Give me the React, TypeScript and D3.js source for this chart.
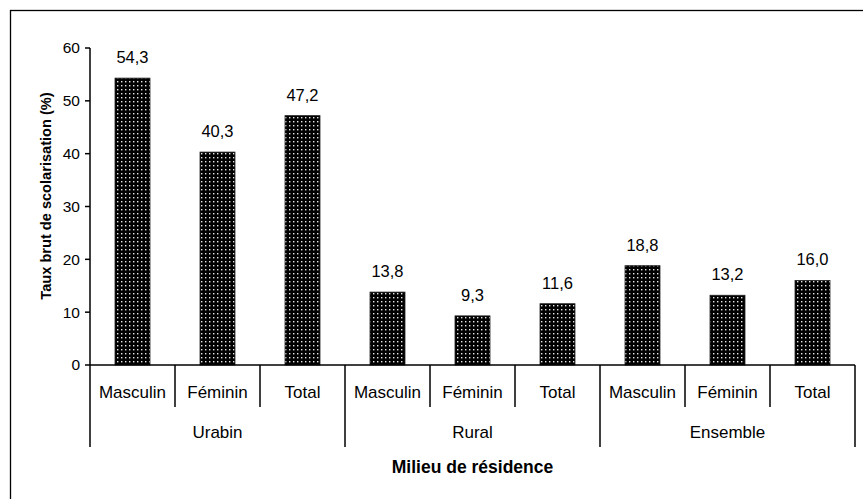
import React from "react";
import * as d3 from "d3";

const groups = ["Urabin", "Rural", "Ensemble"];
const subcats = ["Masculin", "Féminin", "Total"];
const values = [
  [54.3, 40.3, 47.2],
  [13.8, 9.3, 11.6],
  [18.8, 13.2, 16.0],
];
const yTicks = [0, 10, 20, 30, 40, 50, 60];
const yTitle = "Taux brut de scolarisation (%)";
const xTitle = "Milieu de résidence";

const W = 863;
const H = 499;
const left = 90;
const right = 855;
const top = 48;
const bottom = 365;
const font = "Liberation Sans, Arial, sans-serif";

export default function App() {
  const items = groups.flatMap((g, gi) =>
    subcats.map((s, si) => ({ key: `${g}-${s}`, group: g, sub: s, gi, si, v: values[gi][si] }))
  );
  const x = d3.scaleBand<string>().domain(items.map((d) => d.key)).range([left, right]).padding(0);
  const xg = d3.scaleBand<string>().domain(groups).range([left, right]).padding(0);
  const y = d3.scaleLinear().domain([0, 60]).range([bottom, top]);
  const barW = 35;
  const fmt = (v: number) => v.toFixed(1).replace(".", ",");

  return (
    <svg width={W} height={H} style={{ position: "absolute", left: 0, top: 0, background: "#fff" }}>
      <defs>
        <pattern id="dots" width="4" height="4" patternUnits="userSpaceOnUse">
          <rect width="4" height="4" fill="#000" />
          <rect x="1" y="1" width="1.4" height="1.4" fill="#e8e8e8" />
        </pattern>
      </defs>
      <rect x={0} y={0} width={W} height={H} fill="#fff" />
      <rect x={10.5} y={10.5} width={W + 20} height={H + 20} fill="none" stroke="#000" strokeWidth={1.3} />

      {/* y axis */}
      <line x1={left} x2={left} y1={top} y2={447} stroke="#000" strokeWidth={1.5} />
      {yTicks.map((t) => (
        <g key={t}>
          <line x1={left - 5} x2={left} y1={y(t)} y2={y(t)} stroke="#000" strokeWidth={1.5} />
          <text x={left - 10} y={y(t)} dy="0.35em" textAnchor="end" fontFamily={font} fontSize={15.5} fill="#000">
            {t}
          </text>
        </g>
      ))}
      <text
        transform={`translate(46,196) rotate(-90)`}
        textAnchor="middle"
        dy="0.35em"
        fontFamily={font}
        fontSize={14.6}
        fontWeight="bold"
      >
        {yTitle}
      </text>

      {/* bars */}
      {items.map((d) => {
        const cx = (x(d.key) as number) + x.bandwidth() / 2;
        return (
          <g key={d.key}>
            <rect
              x={cx - barW / 2}
              y={y(d.v)}
              width={barW}
              height={bottom - y(d.v)}
              fill="url(#dots)"
              stroke="#222"
              strokeWidth={0.8}
            />
            <text x={cx} y={y(d.v) - 15} textAnchor="middle" fontFamily={font} fontSize={16.5} fill="#000">
              {fmt(d.v)}
            </text>
            <text x={cx} y={392} dy="0.35em" textAnchor="middle" fontFamily={font} fontSize={17} fill="#000">
              {d.sub}
            </text>
          </g>
        );
      })}

      {/* x axis */}
      <line x1={left} x2={right} y1={bottom} y2={bottom} stroke="#000" strokeWidth={1.5} />
      {items.map((d) =>
        d.si > 0 ? (
          <line
            key={"sep" + d.key}
            x1={x(d.key) as number}
            x2={x(d.key) as number}
            y1={bottom}
            y2={407}
            stroke="#000"
            strokeWidth={1.5}
          />
        ) : null
      )}
      {groups.map((g, i) => (
        <g key={g}>
          {i > 0 && (
            <line x1={xg(g) as number} x2={xg(g) as number} y1={bottom} y2={447} stroke="#000" strokeWidth={1.5} />
          )}
          <text
            x={(xg(g) as number) + xg.bandwidth() / 2}
            y={432}
            dy="0.35em"
            textAnchor="middle"
            fontFamily={font}
            fontSize={17}
          >
            {g}
          </text>
        </g>
      ))}
      <line x1={right} x2={right} y1={bottom} y2={447} stroke="#000" strokeWidth={1.5} />
      <text x={(left + right) / 2} y={467} dy="0.35em" textAnchor="middle" fontFamily={font} fontSize={17.5} fontWeight="bold">
        {xTitle}
      </text>
    </svg>
  );
}
